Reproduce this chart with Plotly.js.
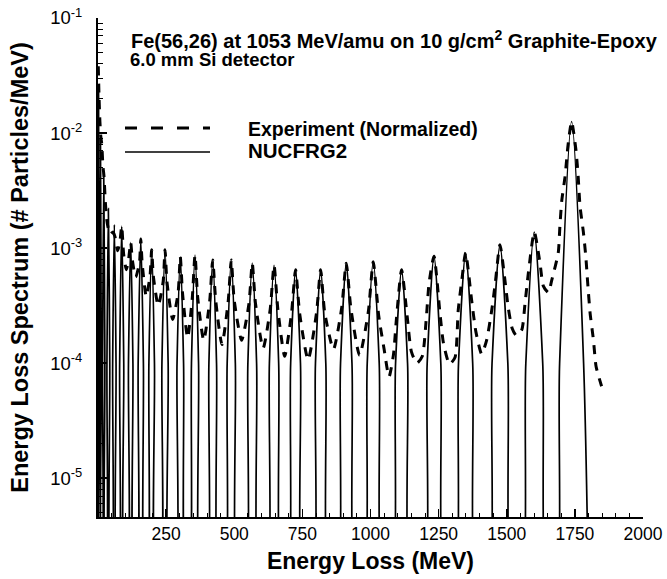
<!DOCTYPE html>
<html>
<head>
<meta charset="utf-8">
<script src="https://cdn.plot.ly/plotly-3.0.1.min.js"></script>
<style>
html,body{margin:0;padding:0;background:#fff;}
#chart{width:667px;height:579px;}
</style>
</head>
<body>
<div id="chart"></div>
<script>
// NUCFRG2 calculation: peaks for each fragment charge (Z = 1..26)
const nucfrgEnergy = [
  0.1, 0.4, 2, 3.6, 3.9,
  4.9, 6.1, 9, 11.9, 13.1,
  14.7, 16.8, 21, 25.2, 27.3,
  29.7, 32.8, 38, 43.2, 46.3,
  49.8, 53.8, 60, 66.2, 70.2,
  74.8, 79.5, 87, 94.5, 99.2,
  106, 111.8, 120, 128.2, 134,
  140.9, 147.4, 157, 166.6, 173.1,
  179.2, 186.8, 197, 207.2, 214.8,
  226, 234.6, 246, 257.4, 266,
  280, 290, 302, 314, 324,
  332, 343, 356, 369, 380,
  395, 407, 421, 435, 447,
  461, 474, 489, 504, 517,
  536, 550, 566, 582, 596,
  615, 629, 646, 663, 677,
  692, 707, 725, 743, 758,
  782, 798, 817, 836, 852,
  873, 890, 911, 932, 949,
  970, 988, 1010, 1032, 1050,
  1073, 1092, 1114, 1136, 1155,
  1189, 1208, 1233, 1258, 1277,
  1303, 1323, 1349, 1375, 1395,
  1426, 1446, 1475, 1504, 1524,
  1549, 1570, 1601, 1632, 1653,
  1676, 1694, 1738, 1782, 1800
];
const nucfrgSpectrum = [
  1e-6, 1e-4, 2.5e-2, 1e-4, 1e-6,
  1e-6, 1e-4, 9.0e-3, 1e-4, 1e-6,
  1e-6, 1e-4, 4.5e-3, 1e-4, 1e-6,
  1e-6, 1e-4, 2.2e-3, 1e-4, 1e-6,
  1e-6, 1e-4, 1.6e-3, 1e-4, 1e-6,
  1e-6, 1e-4, 1.55e-3, 1e-4, 1e-6,
  1e-6, 1e-4, 1.12e-3, 1e-4, 1e-6,
  1e-6, 1e-4, 1.2e-3, 1e-4, 1e-6,
  1e-6, 1e-4, 9.7e-4, 1e-4, 1e-6,
  1e-6, 1e-4, 9.7e-4, 1e-4, 1e-6,
  1e-6, 1e-4, 8.4e-4, 1e-4, 1e-6,
  1e-6, 1e-4, 8.7e-4, 1e-4, 1e-6,
  1e-6, 1e-4, 7.9e-4, 1e-4, 1e-6,
  1e-6, 1e-4, 7.9e-4, 1e-4, 1e-6,
  1e-6, 1e-4, 7.4e-4, 1e-4, 1e-6,
  1e-6, 1e-4, 7.1e-4, 1e-4, 1e-6,
  1e-6, 1e-4, 6.5e-4, 1e-4, 1e-6,
  1e-6, 1e-4, 6.5e-4, 1e-4, 1e-6,
  1e-6, 1e-4, 7.4e-4, 1e-4, 1e-6,
  1e-6, 1e-4, 7.6e-4, 1e-4, 1e-6,
  1e-6, 1e-4, 6.5e-4, 1e-4, 1e-6,
  1e-6, 1e-4, 8.5e-4, 1e-4, 1e-6,
  1e-6, 1e-4, 9.1e-4, 1e-4, 1e-6,
  1e-6, 1e-4, 1.07e-3, 1e-4, 1e-6,
  1e-6, 1e-4, 1.38e-3, 1e-4, 1e-6,
  1e-6, 1e-4, 1.26e-2, 1e-4, 1e-6
];

// Experiment (normalized)
const expEnergy = [
  1, 4, 7, 10, 14, 18, 22, 27, 32, 37, 45, 55, 62, 72, 80, 87, 94, 104, 112, 120,
  126, 138, 152, 157, 162, 177, 191, 197, 203, 221, 239, 246, 253, 274, 294, 302,
  310, 329, 346, 356, 366, 388, 410, 421, 432, 455, 478, 489, 500, 527, 554, 566,
  578, 606, 632, 646, 660, 685, 710, 725, 740, 771, 802, 817, 832, 864, 894, 911,
  928, 960, 992, 1010, 1030, 1050, 1068, 1084, 1095, 1114, 1135, 1150, 1170, 1190,
  1205, 1215, 1233, 1255, 1268, 1290, 1310, 1322, 1335, 1349, 1371, 1387, 1408,
  1426, 1445, 1458, 1475, 1492, 1505, 1520, 1535, 1555, 1567, 1579, 1601, 1622,
  1634, 1653, 1665, 1689, 1695, 1702, 1714, 1725, 1738, 1754, 1762, 1769, 1781,
  1790, 1797, 1806, 1818, 1828, 1848
];
const expSpectrum = [
  3.8e-2, 2.0e-2, 1.26e-2, 9.5e-3, 7.9e-3, 5.2e-3, 4.2e-3, 2.5e-3, 1.78e-3, 1.51e-3,
  1.32e-3, 1.38e-3, 1.26e-3, 9.5e-4, 1.12e-3, 1.55e-3, 8.9e-4, 6.5e-4, 7.9e-4, 1.12e-3,
  7.9e-4, 5.6e-4, 7.4e-4, 1.2e-3, 7.4e-4, 3.8e-4, 5.75e-4, 9.7e-4, 5.75e-4, 3.16e-4,
  5.1e-4, 9.7e-4, 5.1e-4, 2.4e-4, 4.1e-4, 8.4e-4, 4.1e-4, 1.66e-4, 3.7e-4, 8.7e-4,
  3.7e-4, 1.58e-4, 3.5e-4, 7.9e-4, 3.5e-4, 1.45e-4, 3.5e-4, 7.9e-4, 3.5e-4, 1.58e-4,
  3.3e-4, 7.4e-4, 3.3e-4, 1.35e-4, 2.95e-4, 7.1e-4, 2.95e-4, 1.15e-4, 2.7e-4, 6.5e-4,
  2.7e-4, 1.07e-4, 2.75e-4, 6.5e-4, 2.75e-4, 1.32e-4, 3.0e-4, 7.4e-4, 3.0e-4, 1.17e-4,
  2.8e-4, 7.6e-4, 2.6e-4, 1.32e-4, 7.6e-5, 1.17e-4, 2.4e-4, 6.5e-4, 2.5e-4, 1.26e-4,
  1.0e-4, 1.15e-4, 2.5e-4, 5.0e-4, 8.5e-4, 2.7e-4, 1.48e-4, 9.8e-5, 1.12e-4, 2.9e-4,
  5.25e-4, 9.1e-4, 3.55e-4, 1.86e-4, 1.2e-4, 1.58e-4, 2.9e-4, 5.0e-4, 1.07e-3, 5.6e-4,
  3.1e-4, 2.0e-4, 1.74e-4, 1.95e-4, 3.3e-4, 6.0e-4, 1.38e-3, 7.4e-4, 4.7e-4, 4.1e-4,
  5.25e-4, 9.1e-4, 1.55e-3, 2.6e-3, 4.2e-3, 7.9e-3, 1.26e-2, 7.1e-3, 4.2e-3, 2.3e-3,
  1.39e-3, 8.5e-4, 5.0e-4, 2.7e-4, 1.6e-4, 9.3e-5, 6.3e-5
];

const seriesNames = ['Experiment (Normalized)', 'NUCFRG2'];
const titleLines = ['Fe(56,26) at 1053 MeV/amu on 10 g/cm<sup>2</sup> Graphite-Epoxy', '6.0 mm Si detector'];
const xTickVals = [250, 500, 750, 1000, 1250, 1500, 1750, 2000];
const xTickText = ['250', '500', '750', '1000', '1250', '1500', '1750', '2000'];
const yTickVals = [1e-5, 1e-4, 1e-3, 1e-2, 1e-1];
const yTickText = ['10<sup>-5</sup>', '10<sup>-4</sup>', '10<sup>-3</sup>', '10<sup>-2</sup>', '10<sup>-1</sup>'];

const FONT = 'Liberation Sans, Arial, Helvetica, sans-serif';

// minor tick positions (2..9 per decade)
const yMinor = [];
for (let e = -6; e <= -2; e++) {
  for (let m = 2; m <= 9; m++) yMinor.push(m * Math.pow(10, e));
}

const traces = [
  {
    x: expEnergy, y: expSpectrum, type: 'scatter', mode: 'lines',
    name: seriesNames[0], showlegend: false,
    line: {color: '#000', width: 3, dash: '9px,8px', shape: 'spline', smoothing: 0.6}
  },
  {
    x: nucfrgEnergy, y: nucfrgSpectrum, type: 'scatter', mode: 'lines',
    name: seriesNames[1], showlegend: false,
    line: {color: '#000', width: 1.7, shape: 'spline', smoothing: 0.8}
  }
];

const L = 98, R = 643, T = 18, B = 517;
const px = v => (v - L) / (R - L);
const py = v => 1 - (v - T) / (B - T);

const layout = {
  width: 667, height: 579,
  margin: {l: L, r: 667 - R, t: T, b: 579 - B},
  paper_bgcolor: '#fff', plot_bgcolor: '#fff',
  font: {family: FONT, color: '#000'},
  showlegend: false,
  xaxis: {
    type: 'linear', range: [0, 2000],
    showline: true, linecolor: '#000', linewidth: 2,
    showgrid: false, zeroline: false,
    ticks: 'inside', ticklen: 8, tickwidth: 1.5, tickcolor: '#000',
    tickmode: 'array', tickvals: xTickVals, ticktext: xTickText,
    tickfont: {family: FONT, size: 17.5, color: '#000'},
    minor: {ticks: 'inside', ticklen: 4, tickwidth: 1, tickcolor: '#000', dtick: 50, tick0: 0, showgrid: false},
    title: {text: '<b>Energy Loss (MeV)</b>', font: {family: FONT, size: 23, color: '#000'}, standoff: 10}
  },
  yaxis: {
    type: 'log', range: [-5.337, -1],
    showline: true, linecolor: '#000', linewidth: 2,
    showgrid: false, zeroline: false,
    ticks: 'inside', ticklen: 9, tickwidth: 1.5, tickcolor: '#000',
    tickmode: 'array', tickvals: yTickVals, ticktext: yTickText,
    tickfont: {family: FONT, size: 18.5, color: '#000'},
    ticklabelstandoff: 10,
    minor: {ticks: 'inside', ticklen: 5, tickwidth: 1, tickcolor: '#000', tickmode: 'array', tickvals: yMinor, showgrid: false},
    title: {text: '<b>Energy Loss Spectrum (# Particles/MeV)</b>', font: {family: FONT, size: 23.5, color: '#000'}, standoff: 15}
  },
  shapes: [
    {type: 'line', xref: 'paper', yref: 'paper', x0: px(125), x1: px(210), y0: py(128), y1: py(128),
     line: {color: '#000', width: 3, dash: '12px,14px'}},
    {type: 'line', xref: 'paper', yref: 'paper', x0: px(125), x1: px(210), y0: py(152), y1: py(152),
     line: {color: '#000', width: 1.5}}
  ],
  annotations: [
    {text: '<b>' + titleLines[0] + '</b>', xref: 'paper', yref: 'paper', x: px(129), y: py(39),
     xanchor: 'left', yanchor: 'middle', showarrow: false, font: {family: FONT, size: 20, color: '#000'}},
    {text: '<b>' + titleLines[1] + '</b>', xref: 'paper', yref: 'paper', x: px(128), y: py(59.5),
     xanchor: 'left', yanchor: 'middle', showarrow: false, font: {family: FONT, size: 18.5, color: '#000'}},
    {text: '<b>' + seriesNames[0] + '</b>', xref: 'paper', yref: 'paper', x: px(246), y: py(128.5),
     xanchor: 'left', yanchor: 'middle', showarrow: false, font: {family: FONT, size: 19.5, color: '#000'}},
    {text: '<b>' + seriesNames[1] + '</b>', xref: 'paper', yref: 'paper', x: px(246), y: py(151),
     xanchor: 'left', yanchor: 'middle', showarrow: false, font: {family: FONT, size: 20.5, color: '#000'}}
  ]
};

Plotly.newPlot('chart', traces, layout, {displayModeBar: false, staticPlot: true});
</script>
</body>
</html>
